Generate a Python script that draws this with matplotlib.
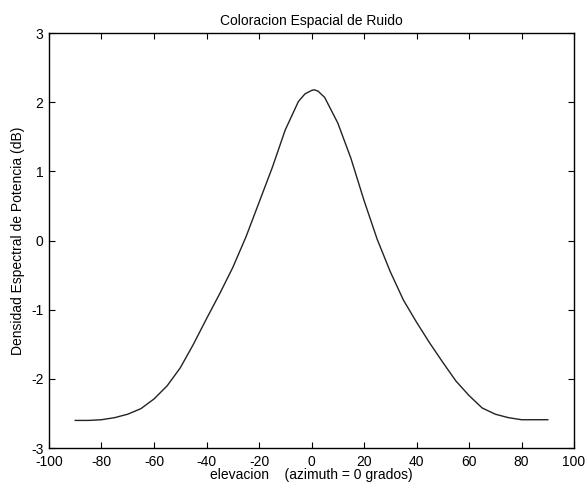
import matplotlib
matplotlib.use("Agg")
import matplotlib.pyplot as plt

# elevation (degrees) and noise power spectral density (dB)
elevacion = [-90, -85, -80, -75, -70, -65, -60, -55, -50, -45, -40, -35, -30,
             -25, -20, -15, -10, -5, -2.5, 0, 1, 2.5, 5, 10, 15, 20, 25, 30,
             35, 40, 45, 50, 55, 60, 65, 70, 75, 80, 85, 90]
densidad = [-2.60, -2.60, -2.59, -2.56, -2.51, -2.43, -2.29, -2.10, -1.84,
            -1.50, -1.13, -0.77, -0.39, 0.05, 0.55, 1.05, 1.60, 2.01, 2.12,
            2.17, 2.18, 2.16, 2.07, 1.70, 1.19, 0.58, 0.02, -0.45, -0.86,
            -1.18, -1.48, -1.76, -2.03, -2.24, -2.42, -2.51, -2.56, -2.59,
            -2.59, -2.59]

xticks = list(range(-100, 101, 20))
yticks = list(range(-3, 4))

plt.rcParams['font.family'] = ['Liberation Sans', 'DejaVu Sans']
plt.rcParams['axes.unicode_minus'] = False

fig = plt.figure(figsize=(5.86, 4.86), dpi=100)
ax = fig.add_axes([0.0836, 0.078, 0.896, 0.854])

ax.plot(elevacion, densidad, color='#222222', linewidth=1.0,
        solid_joinstyle='round')

ax.set_xlim(-100, 100)
ax.set_ylim(-3, 3)
ax.set_xticks(xticks)
ax.set_yticks(yticks)
ax.tick_params(direction='in', top=True, right=True, length=4,
               labelsize=10, width=0.8)
ax.tick_params(axis='x', pad=5)
ax.tick_params(axis='y', pad=4)
for s in ax.spines.values():
    s.set_linewidth(1.0)

ax.set_title('Coloracion Espacial de Ruido', fontsize=10, pad=6)
ax.set_xlabel('elevacion    (azimuth = 0 grados)', fontsize=10, labelpad=-1)
ax.set_ylabel('Densidad Espectral de Potencia (dB)', fontsize=10, labelpad=4)

fig.savefig('out.png', dpi=100)
